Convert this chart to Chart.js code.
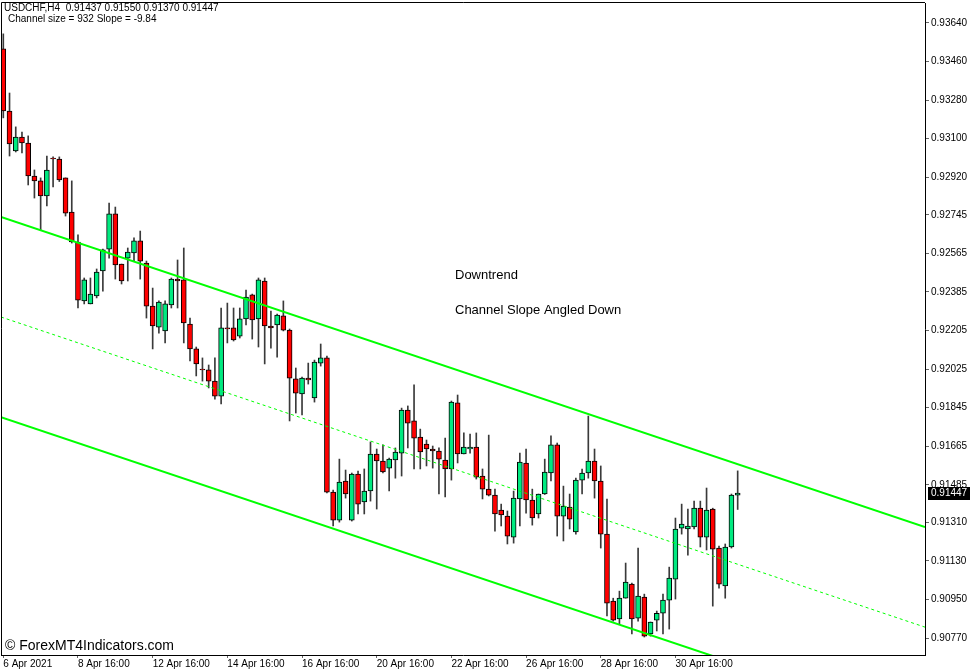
<!DOCTYPE html>
<html>
<head>
<meta charset="utf-8">
<script src="https://cdn.jsdelivr.net/npm/chart.js@4.4.1/dist/chart.umd.min.js"></script>
<style>
html, body { margin: 0; padding: 0; background: #fff; }
canvas { display: block; }
</style>
</head>
<body>
<canvas id="grafico" width="977" height="672"></canvas>
<script>
// USDCHF H4 candles, 6 Apr 2021 16:00 onwards
const opens = [
  0.93519, 0.93229, 0.93043, 0.93108, 0.93080, 0.92926, 0.92903, 0.92833, 0.93010, 0.93005,
  0.92917, 0.92758, 0.92618, 0.92343, 0.92329, 0.92366, 0.92483, 0.92585, 0.92749, 0.92515,
  0.92543, 0.92567, 0.92623, 0.92520, 0.92319, 0.92221, 0.92203, 0.92324, 0.92445, 0.92441,
  0.92235, 0.92119, 0.92025, 0.92021, 0.91969, 0.91899, 0.92217, 0.92217, 0.92179, 0.92259,
  0.92371, 0.92259, 0.92436, 0.92226, 0.92231, 0.92273, 0.92207, 0.91979, 0.91909, 0.91983,
  0.91890, 0.92053, 0.92077, 0.91451, 0.91320, 0.91503, 0.91320, 0.91535, 0.91405, 0.91456,
  0.91629, 0.91596, 0.91563, 0.91601, 0.91633, 0.91834, 0.91783, 0.91708, 0.91675, 0.91652,
  0.91643, 0.91601, 0.91559, 0.91867, 0.91629, 0.91652, 0.91661, 0.91526, 0.91465, 0.91437,
  0.91367, 0.91339, 0.91241, 0.91419, 0.91587, 0.91414, 0.91349, 0.91442, 0.91540, 0.91671,
  0.91339, 0.91381, 0.91265, 0.91507, 0.91540, 0.91596, 0.91503, 0.91255, 0.90943, 0.90859,
  0.90956, 0.91022, 0.90863, 0.90961, 0.90789, 0.90854, 0.90886, 0.90947, 0.91045, 0.91283,
  0.91279, 0.91288, 0.91376, 0.91241, 0.91372, 0.91190, 0.91013, 0.91195, 0.91437
];
const highs = [
  0.93589, 0.93313, 0.93155, 0.93131, 0.93113, 0.92954, 0.92917, 0.93019, 0.93015, 0.93015,
  0.92917, 0.92903, 0.92651, 0.92450, 0.92450, 0.92492, 0.92585, 0.92800, 0.92781, 0.92515,
  0.92590, 0.92637, 0.92669, 0.92529, 0.92403, 0.92343, 0.92343, 0.92450, 0.92534, 0.92590,
  0.92263, 0.92128, 0.92077, 0.92044, 0.92077, 0.92310, 0.92333, 0.92310, 0.92310, 0.92394,
  0.92375, 0.92450, 0.92450, 0.92296, 0.92282, 0.92343, 0.92212, 0.92030, 0.91988, 0.92053,
  0.92067, 0.92142, 0.92086, 0.91460, 0.91605, 0.91554, 0.91540, 0.91549, 0.91559, 0.91685,
  0.91652, 0.91671, 0.91610, 0.91657, 0.91843, 0.91853, 0.91951, 0.91745, 0.91694, 0.91666,
  0.91657, 0.91703, 0.91876, 0.91904, 0.91727, 0.91722, 0.91727, 0.91559, 0.91717, 0.91465,
  0.91395, 0.91363, 0.91456, 0.91633, 0.91652, 0.91465, 0.91442, 0.91605, 0.91713, 0.91680,
  0.91479, 0.91442, 0.91516, 0.91559, 0.91806, 0.91652, 0.91573, 0.91419, 0.90956, 0.90989,
  0.91120, 0.91026, 0.91190, 0.90975, 0.90845, 0.90896, 0.90975, 0.91101, 0.91330, 0.91395,
  0.91372, 0.91409, 0.91409, 0.91470, 0.91376, 0.91199, 0.91209, 0.91442, 0.91550
];
const lows = [
  0.93197, 0.93019, 0.93038, 0.93033, 0.92884, 0.92823, 0.92674, 0.92786, 0.92875, 0.92900,
  0.92739, 0.92613, 0.92310, 0.92329, 0.92329, 0.92357, 0.92389, 0.92543, 0.92445, 0.92422,
  0.92436, 0.92529, 0.92445, 0.92263, 0.92119, 0.92193, 0.92147, 0.92310, 0.92310, 0.92147,
  0.92063, 0.91993, 0.91969, 0.91937, 0.91885, 0.91862, 0.92147, 0.92156, 0.92170, 0.92231,
  0.92165, 0.92128, 0.92049, 0.92123, 0.92081, 0.92203, 0.91783, 0.91820, 0.91811, 0.91955,
  0.91871, 0.92039, 0.91447, 0.91293, 0.91311, 0.91423, 0.91316, 0.91349, 0.91349, 0.91409,
  0.91372, 0.91540, 0.91456, 0.91516, 0.91526, 0.91657, 0.91559, 0.91559, 0.91573, 0.91563,
  0.91442, 0.91428, 0.91507, 0.91587, 0.91629, 0.91633, 0.91512, 0.91419, 0.91433, 0.91269,
  0.91293, 0.91209, 0.91213, 0.91293, 0.91353, 0.91297, 0.91330, 0.91440, 0.91503, 0.91246,
  0.91223, 0.91279, 0.91255, 0.91442, 0.91516, 0.91423, 0.91190, 0.90873, 0.90849, 0.90835,
  0.90956, 0.90789, 0.90849, 0.90775, 0.90779, 0.90803, 0.90789, 0.90812, 0.90952, 0.91255,
  0.91157, 0.91279, 0.91195, 0.91181, 0.90919, 0.91003, 0.90956, 0.91190, 0.91370
];
const closes = [
  0.93229, 0.93075, 0.93108, 0.93080, 0.92926, 0.92903, 0.92833, 0.92954, 0.93005, 0.92907,
  0.92753, 0.92618, 0.92347, 0.92441, 0.92375, 0.92478, 0.92581, 0.92749, 0.92511, 0.92436,
  0.92571, 0.92623, 0.92529, 0.92319, 0.92226, 0.92338, 0.92329, 0.92445, 0.92436, 0.92240,
  0.92119, 0.92049, 0.92021, 0.91969, 0.91899, 0.92217, 0.92212, 0.92161, 0.92259, 0.92361,
  0.92254, 0.92441, 0.92226, 0.92217, 0.92277, 0.92207, 0.91983, 0.91913, 0.91983, 0.91974,
  0.92058, 0.92077, 0.91451, 0.91320, 0.91498, 0.91442, 0.91535, 0.91395, 0.91456, 0.91629,
  0.91596, 0.91545, 0.91605, 0.91638, 0.91834, 0.91773, 0.91703, 0.91638, 0.91652, 0.91643,
  0.91605, 0.91559, 0.91871, 0.91629, 0.91661, 0.91661, 0.91521, 0.91465, 0.91437, 0.91349,
  0.91344, 0.91246, 0.91423, 0.91591, 0.91414, 0.91330, 0.91442, 0.91545, 0.91671, 0.91339,
  0.91386, 0.91325, 0.91507, 0.91540, 0.91596, 0.91503, 0.91255, 0.90933, 0.90854, 0.90956,
  0.91031, 0.90859, 0.90966, 0.90779, 0.90845, 0.90886, 0.90947, 0.91050, 0.91279, 0.91302,
  0.91293, 0.91376, 0.91241, 0.91367, 0.91185, 0.91022, 0.91195, 0.91437, 0.91447
];

// channel lines (start / end of the visible window)
const channelX = [-0.37, 148.1];
const upperLine = [0.92735, 0.91288];
const middleLine = [0.92268, 0.90821];
const lowerLine = [0.91801, 0.90354];

// axis ticks
const xTickIdx = [0, 12, 24, 36, 48, 60, 72, 84, 96, 108];
const xLabels = ['6 Apr 2021', '8 Apr 16:00', '12 Apr 16:00', '14 Apr 16:00', '16 Apr 16:00',
  '20 Apr 16:00', '22 Apr 16:00', '26 Apr 16:00', '28 Apr 16:00', '30 Apr 16:00'];
const yTicks = [0.93640, 0.93460, 0.93280, 0.93100, 0.92920, 0.92745, 0.92565, 0.92385, 0.92205,
  0.92025, 0.91845, 0.91665, 0.91485, 0.91310, 0.91130, 0.90950, 0.90770];

const verde = '#00ea80';
const vermelho = '#ff0000';
const last = closes.length - 1;

const wicks = lows.map((l, i) => ({ x: i, y: [l, highs[i]] }));
const bodies = opens.map((o, i) => ({ x: i, y: [o, closes[i]] }));
const bodyColors = opens.map((o, i) => closes[i] >= o ? verde : vermelho);

const line = (vals) => channelX.map((x, i) => ({ x: x, y: vals[i] }));

Chart.defaults.font.family = '"Liberation Sans", Arial, sans-serif';
Chart.defaults.font.size = 10;
Chart.defaults.color = '#000';

const textos = {
  id: 'textos',
  afterDraw(chart) {
    const ctx = chart.ctx;
    const a = chart.chartArea;
    ctx.save();
    // top and left frame
    ctx.strokeStyle = '#000';
    ctx.lineWidth = 1;
    ctx.beginPath();
    ctx.moveTo(a.left + 0.5, a.bottom);
    ctx.lineTo(a.left + 0.5, a.top - 0.5);
    ctx.lineTo(a.right, a.top - 0.5);
    ctx.stroke();

    ctx.fillStyle = '#000';
    ctx.textBaseline = 'middle';
    ctx.font = '10px "Liberation Sans", Arial';
    const ohlc = [opens[last], highs[last], lows[last], closes[last]].map(v => v.toFixed(5)).join(' ');
    ctx.fillText('USDCHF,H4  ' + ohlc, 4, 8);
    ctx.fillText('Channel size = 932 Slope = -9.84', 8, 19);

    ctx.font = '13px "Liberation Sans", Arial';
    ctx.fillText('Downtrend', 455, 275);
    ctx.fillText('Channel Slope Angled Down', 455, 310);

    ctx.font = '14px "Liberation Sans", Arial';
    ctx.fillText('\u00a9 ForexMT4Indicators.com', 5, 646);

    // current price box
    const py = Math.round(chart.scales.y.getPixelForValue(closes[last]));
    ctx.fillStyle = '#000';
    ctx.fillRect(a.right + 3, py - 6, 42, 13);
    ctx.fillStyle = '#fff';
    ctx.font = '10px "Liberation Sans", Arial';
    ctx.fillText(closes[last].toFixed(5), a.right + 6, py + 0.5);
    ctx.restore();
  }
};

const ctx = document.getElementById('grafico').getContext('2d');
const grafico = new Chart(ctx, {
  type: 'bar',
  data: {
    datasets: [
      {
        type: 'line', data: line(upperLine), borderColor: '#00ff00', borderWidth: 2,
        pointRadius: 0, order: 0
      },
      {
        type: 'line', data: line(middleLine), borderColor: '#00ff00', borderWidth: 1,
        borderDash: [3, 3], pointRadius: 0, order: 0
      },
      {
        type: 'line', data: line(lowerLine), borderColor: '#00ff00', borderWidth: 2,
        pointRadius: 0, order: 0
      },
      {
        data: bodies, backgroundColor: bodyColors, borderColor: '#000', borderWidth: 1,
        borderSkipped: false, barThickness: 5, grouped: false, order: 1
      },
      {
        data: wicks, backgroundColor: '#3a3a3a', borderWidth: 0,
        barThickness: 1, grouped: false, order: 2
      }
    ]
  },
  options: {
    responsive: false,
    animation: false,
    layout: { padding: { left: 1, top: 3, right: 0, bottom: 0 } },
    plugins: { legend: { display: false }, tooltip: { enabled: false } },
    scales: {
      x: {
        type: 'linear',
        offset: false,
        min: channelX[0],
        max: channelX[1],
        afterFit: (s) => { s.height = 17; s.paddingLeft = 0; s.paddingRight = 0; },
        afterBuildTicks: (s) => { s.ticks = xTickIdx.map(v => ({ value: v })); },
        grid: { offset: false, drawOnChartArea: false, tickLength: 3, color: '#666' },
        border: { color: '#000' },
        ticks: {
          autoSkip: false, maxRotation: 0, align: 'start', padding: 0,
          callback: (v) => xLabels[xTickIdx.indexOf(v)]
        }
      },
      y: {
        position: 'right',
        min: 0.90691,
        max: 0.93733,
        afterFit: (s) => { s.width = 52; s.paddingTop = 0; s.paddingBottom = 0; },
        afterBuildTicks: (s) => { s.ticks = yTicks.map(v => ({ value: v })); },
        grid: { drawOnChartArea: false, tickLength: 4, color: '#666' },
        border: { color: '#000' },
        ticks: { padding: 2, callback: (v) => v.toFixed(5) }
      }
    }
  },
  plugins: [textos]
});
</script>
</body>
</html>
